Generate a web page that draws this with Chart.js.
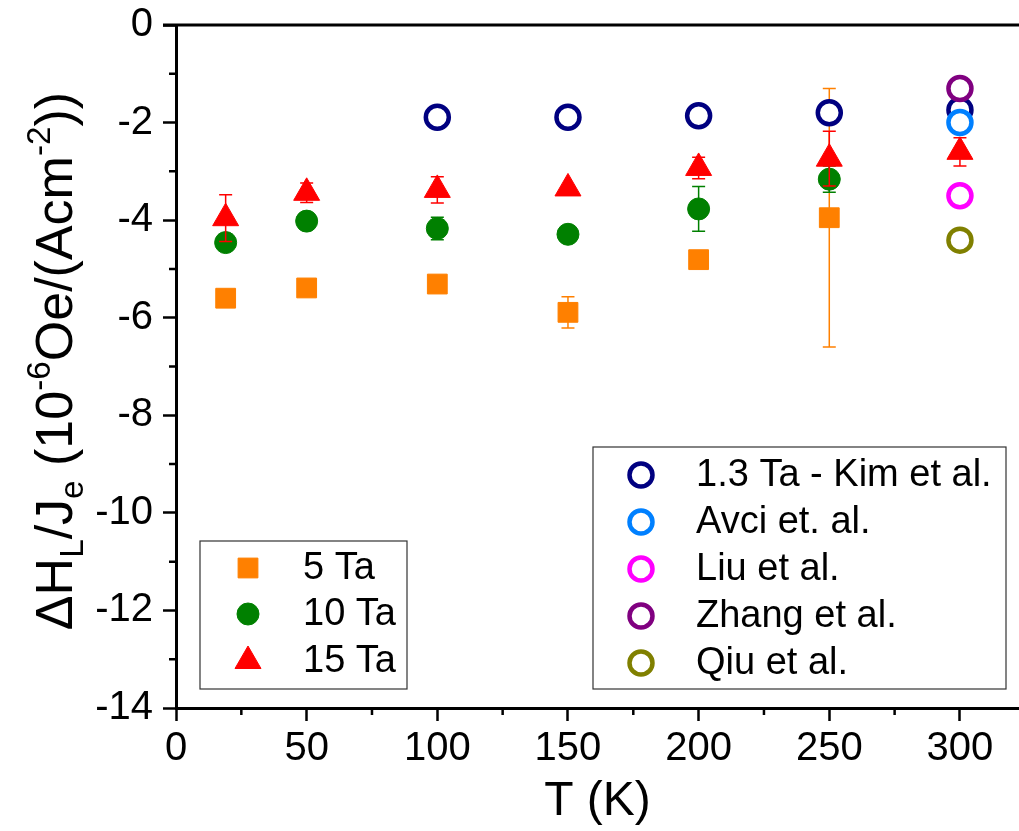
<!DOCTYPE html>
<html><head><meta charset="utf-8">
<script src="https://cdn.jsdelivr.net/npm/chart.js@4/dist/chart.umd.min.js"></script>
<style>html,body{margin:0;padding:0;background:#fff;}#wrap{width:1019px;height:831px;position:relative;}</style>
</head><body><div id="wrap"><canvas id="c" width="1019" height="831"></canvas></div>
<script>
// ---- data ----
const t5 = [19, 50, 100, 150, 200, 250];
const v5 = [-5.60, -5.39, -5.31, -5.89, -4.81, -3.95];
const e5 = [0, 0, 0, 0.32, 0, 2.65];
const t10 = [19, 50, 100, 150, 200, 250];
const v10 = [-4.46, -4.02, -4.17, -4.29, -3.77, -3.16];
const e10 = [0, 0, 0.23, 0, 0.46, 0.27];
const t15 = [19, 50, 100, 150, 200, 250, 300];
const v15 = [-3.96, -3.44, -3.38, -3.35, -2.93, -2.74, -2.60];
const e15 = [0.48, 0.20, 0.27, 0, 0.22, 0.56, 0.29];
const tKim = [100, 150, 200, 250, 300];
const vKim = [-1.89, -1.89, -1.86, -1.80, -1.74];
const tAvci = [300], vAvci = [-2.00];
const tLiu = [300], vLiu = [-3.50];
const tZhang = [300], vZhang = [-1.30];
const tQiu = [300], vQiu = [-4.41];
const xMajor = [0, 50, 100, 150, 200, 250, 300];
const xMinor = [25, 75, 125, 175, 225, 275];
const yMajor = [0, -2, -4, -6, -8, -10, -12, -14];
const yMinor = [-1, -3, -5, -7, -9, -11, -13];
const legendA = ['5 Ta', '10 Ta', '15 Ta'];
const legendB = ['1.3 Ta - Kim et al.', 'Avci et. al.', 'Liu et al.', 'Zhang et al.', 'Qiu et al.'];

const FONT = '"Liberation Sans", Arial, sans-serif';
const xy = (t, v) => t.map((x, i) => ({x, y: v[i]}));

function filled(label, t, v, err, color, style, r, order) {
  return {label, data: xy(t, v), err, errColor: color, pointStyle: style, pointRadius: r, pointHoverRadius: r,
    backgroundColor: color, borderColor: color, pointBorderWidth: 1, showLine: false, order};
}
function open(label, t, v, color, order) {
  return {label, data: xy(t, v), pointStyle: 'circle', pointRadius: 11.5, pointHoverRadius: 11.5,
    backgroundColor: '#ffffff', borderColor: color, pointBorderWidth: 4.5, showLine: false, order};
}
const datasets = [
  filled(legendA[0], t5, v5, e5, '#FF8000', 'rect', 14, 8),
  filled(legendA[1], t10, v10, e10, '#008000', 'circle', 11, 7),
  filled(legendA[2], t15, v15, e15, '#FF0000', 'triangle', 15, 6),
  open(legendB[0], tKim, vKim, '#000080', 5),
  open(legendB[1], tAvci, vAvci, '#0080FF', 4),
  open(legendB[2], tLiu, vLiu, '#FF00FF', 3),
  open(legendB[3], tZhang, vZhang, '#800080', 2),
  open(legendB[4], tQiu, vQiu, '#808000', 1),
];

const errPlugin = {
  id: 'errbars',
  beforeDatasetDraw(chart, args) {
    const ds = chart.data.datasets[args.index];
    if (!ds.err) return;
    const {ctx, scales: {x, y}} = chart;
    ctx.save();
    ctx.strokeStyle = ds.errColor; ctx.lineWidth = 1.5;
    ds.data.forEach((p, i) => {
      const e = ds.err[i]; if (!e) return;
      const px = x.getPixelForValue(p.x);
      const y1 = y.getPixelForValue(p.y + e), y2 = y.getPixelForValue(p.y - e);
      ctx.beginPath();
      ctx.moveTo(px, y1); ctx.lineTo(px, y2);
      ctx.moveTo(px - 6.5, y1); ctx.lineTo(px + 6.5, y1);
      ctx.moveTo(px - 6.5, y2); ctx.lineTo(px + 6.5, y2);
      ctx.stroke();
    });
    ctx.restore();
  }
};

const extraPlugin = {
  id: 'extra',
  afterDraw(chart) {
    const {ctx, chartArea: ca, scales: {x, y}} = chart;
    ctx.save();
    // top frame line
    ctx.strokeStyle = '#000'; ctx.lineWidth = 3;
    ctx.beginPath(); ctx.moveTo(ca.left - 13, ca.top); ctx.lineTo(ca.right, ca.top); ctx.stroke();
    // minor ticks
    ctx.lineWidth = 2.5; ctx.beginPath();
    xMinor.forEach(v => { const p = x.getPixelForValue(v); ctx.moveTo(p, ca.bottom); ctx.lineTo(p, ca.bottom + 7); });
    yMinor.forEach(v => { const p = y.getPixelForValue(v); ctx.moveTo(ca.left, p); ctx.lineTo(ca.left - 7, p); });
    ctx.stroke();

    // y-axis title with sub/superscripts
    const fs = 52, ss = 0.64 * fs;
    const segs = [['ΔH', 0], ['L', 1], ['/J', 0], ['e', 1], [' (10', 0], ['-6', -1], ['Oe/(Acm', 0], ['-2', -1], ['))', 0]];
    let total = 0;
    segs.forEach(s => { ctx.font = (s[1] ? ss : fs) + 'px ' + FONT; total += ctx.measureText(s[0]).width; });
    ctx.translate(72, 361 + total / 2);
    ctx.rotate(-Math.PI / 2);
    ctx.fillStyle = '#000'; ctx.textBaseline = 'alphabetic'; ctx.textAlign = 'left';
    let cx = 0;
    segs.forEach(s => {
      ctx.font = (s[1] ? ss : fs) + 'px ' + FONT;
      const dy = s[1] === 1 ? 0.22 * fs : (s[1] === -1 ? -0.42 * fs : 0);
      ctx.fillText(s[0], cx, dy);
      cx += ctx.measureText(s[0]).width;
    });
    ctx.restore();

    // legends
    const H = Chart.helpers;
    function box(x0, y0, x1, y1) {
      ctx.save(); ctx.strokeStyle = '#333'; ctx.lineWidth = 1.2;
      ctx.strokeRect(x0, y0, x1 - x0, y1 - y0); ctx.restore();
    }
    function entry(ds, mx, my, tx) {
      ctx.save();
      ctx.fillStyle = ds.backgroundColor; ctx.strokeStyle = ds.borderColor; ctx.lineWidth = ds.pointBorderWidth;
      H.drawPoint(ctx, {pointStyle: ds.pointStyle, radius: ds.pointRadius, rotation: 0, borderWidth: ds.pointBorderWidth}, mx, my);
      ctx.fillStyle = '#000'; ctx.font = '38px ' + FONT; ctx.textBaseline = 'middle'; ctx.textAlign = 'left';
      ctx.fillText(ds.label, tx, my + 1);
      ctx.restore();
    }
    const dsets = chart.data.datasets;
    box(200, 541, 407, 689);
    const rowsA = [568, 614, 661];
    for (let i = 0; i < 3; i++) entry(dsets[i], 248, rowsA[i], 303);
    box(593, 447, 1006, 689);
    for (let i = 0; i < 5; i++) entry(dsets[3 + i], 641, 475 + i * 47, 696);
  }
};

function zeroPad(s) { s.paddingLeft = 0; s.paddingRight = 0; s.paddingTop = 0; s.paddingBottom = 0; }

new Chart(document.getElementById('c'), {
  type: 'scatter',
  data: {datasets},
  options: {
    responsive: false, animation: false,
    layout: {autoPadding: false, padding: {top: 25, right: 0, left: 0, bottom: 0}},
    plugins: {legend: {display: false}, tooltip: {enabled: false}},
    scales: {
      x: {
        type: 'linear', min: 0, max: 322.6,
        afterFit: s => { s.height = 123; zeroPad(s); },
        afterBuildTicks: s => { s.ticks = xMajor.map(v => ({value: v})); },
        grid: {drawOnChartArea: false, drawTicks: true, tickLength: 13, tickWidth: 2.5, tickColor: '#000'},
        border: {display: true, color: '#000', width: 3},
        ticks: {color: '#000', font: {family: FONT, size: 40}, padding: 4, maxRotation: 0},
        title: {display: true, text: 'T (K)', color: '#000', font: {family: FONT, size: 48}, padding: {top: 0, bottom: 0}}
      },
      y: {
        type: 'linear', min: -14, max: 0,
        afterFit: s => { s.width = 176; zeroPad(s); },
        afterBuildTicks: s => { s.ticks = yMajor.map(v => ({value: v})); },
        grid: {drawOnChartArea: false, drawTicks: true, tickLength: 13, tickWidth: 2.5, tickColor: '#000'},
        border: {display: true, color: '#000', width: 3},
        ticks: {color: '#000', font: {family: FONT, size: 40}, padding: 10}
      }
    }
  },
  plugins: [errPlugin, extraPlugin]
});
</script></body></html>
